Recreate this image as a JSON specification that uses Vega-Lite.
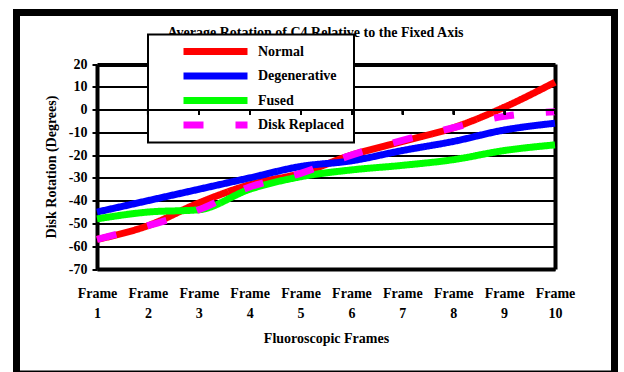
{
  "$schema": "https://vega.github.io/schema/vega-lite/v6.json",
  "width": 598,
  "height": 361.5,
  "autosize": {"type": "none"},
  "padding": {"left": 16.5, "top": 12.5, "right": 9.5, "bottom": -2},
  "background": "white",
  "config": {
    "view": {"stroke": "black", "strokeWidth": 7, "fill": "white"},
    "font": "Liberation Serif",
    "axis": {
      "labelFont": "Liberation Serif",
      "labelFontSize": 14,
      "labelFontWeight": "bold",
      "labelColor": "black",
      "titleFont": "Liberation Serif",
      "titleFontSize": 14,
      "titleFontWeight": "bold",
      "titleColor": "black"
    }
  },
  "title": {
    "text": "Average Rotation of C4 Relative to the Fixed Axis",
    "font": "Liberation Serif",
    "fontSize": 14,
    "fontWeight": "bold",
    "color": "black",
    "anchor": "middle",
    "frame": "group",
    "baseline": "alphabetic",
    "offset": -38,
    "zindex": 0
  },
  "data": {
    "values": [
      {"frame": "Frame 1", "series": "Normal", "rotation": -57},
      {"frame": "Frame 2", "series": "Normal", "rotation": -51},
      {"frame": "Frame 3", "series": "Normal", "rotation": -41},
      {"frame": "Frame 4", "series": "Normal", "rotation": -33},
      {"frame": "Frame 5", "series": "Normal", "rotation": -28},
      {"frame": "Frame 6", "series": "Normal", "rotation": -20},
      {"frame": "Frame 7", "series": "Normal", "rotation": -14},
      {"frame": "Frame 8", "series": "Normal", "rotation": -8},
      {"frame": "Frame 9", "series": "Normal", "rotation": 1},
      {"frame": "Frame 10", "series": "Normal", "rotation": 12},
      {"frame": "Frame 1", "series": "Degenerative", "rotation": -45},
      {"frame": "Frame 2", "series": "Degenerative", "rotation": -40},
      {"frame": "Frame 3", "series": "Degenerative", "rotation": -35},
      {"frame": "Frame 4", "series": "Degenerative", "rotation": -30},
      {"frame": "Frame 5", "series": "Degenerative", "rotation": -25},
      {"frame": "Frame 6", "series": "Degenerative", "rotation": -22.5},
      {"frame": "Frame 7", "series": "Degenerative", "rotation": -18},
      {"frame": "Frame 8", "series": "Degenerative", "rotation": -14},
      {"frame": "Frame 9", "series": "Degenerative", "rotation": -9},
      {"frame": "Frame 10", "series": "Degenerative", "rotation": -6},
      {"frame": "Frame 1", "series": "Fused", "rotation": -48},
      {"frame": "Frame 2", "series": "Fused", "rotation": -45},
      {"frame": "Frame 3", "series": "Fused", "rotation": -44},
      {"frame": "Frame 4", "series": "Fused", "rotation": -35},
      {"frame": "Frame 5", "series": "Fused", "rotation": -29.5},
      {"frame": "Frame 6", "series": "Fused", "rotation": -26.5},
      {"frame": "Frame 7", "series": "Fused", "rotation": -24.5},
      {"frame": "Frame 8", "series": "Fused", "rotation": -22},
      {"frame": "Frame 9", "series": "Fused", "rotation": -18},
      {"frame": "Frame 10", "series": "Fused", "rotation": -15.5},
      {"frame": "Frame 1", "series": "Disk Replaced", "rotation": -57},
      {"frame": "Frame 2", "series": "Disk Replaced", "rotation": -51},
      {"frame": "Frame 3", "series": "Disk Replaced", "rotation": -44},
      {"frame": "Frame 4", "series": "Disk Replaced", "rotation": -34},
      {"frame": "Frame 5", "series": "Disk Replaced", "rotation": -28},
      {"frame": "Frame 6", "series": "Disk Replaced", "rotation": -20},
      {"frame": "Frame 7", "series": "Disk Replaced", "rotation": -13.5},
      {"frame": "Frame 8", "series": "Disk Replaced", "rotation": -8},
      {"frame": "Frame 9", "series": "Disk Replaced", "rotation": -3},
      {"frame": "Frame 10", "series": "Disk Replaced", "rotation": -1}
    ]
  },
  "layer": [
    {
      "mark": {"type": "line", "strokeWidth": 7, "interpolate": "monotone", "strokeCap": "butt"},
      "encoding": {
        "x": {
          "field": "frame",
          "type": "ordinal",
          "scale": {
            "type": "point",
            "domain": ["Frame 1", "Frame 2", "Frame 3", "Frame 4", "Frame 5", "Frame 6", "Frame 7", "Frame 8", "Frame 9", "Frame 10"],
            "range": [80.5, 538.5],
            "padding": 0
          },
          "axis": {
            "orient": "bottom",
            "offset": -105,
            "title": "Fluoroscopic Frames",
            "titlePadding": 11,
            "labelExpr": "split(datum.label, ' ')",
            "labelAngle": 0,
            "labelPadding": 17,
            "labelLineHeight": 20,
            "labelBaseline": "top",
            "labelOverlap": false,
            "ticks": false,
            "tickSize": 0,
            "domain": true,
            "domainColor": "black",
            "domainWidth": 4,
            "grid": false
          }
        },
        "y": {
          "field": "rotation",
          "type": "quantitative",
          "scale": {"domain": [-70, 20], "range": [256.5, 51.5], "nice": false, "zero": false},
          "axis": {
            "orient": "left",
            "offset": -80.5,
            "values": [-70, -60, -50, -40, -30, -20, -10, 0, 10, 20],
            "labelExpr": "'' + datum.value",
            "title": "Disk Rotation (Degrees)",
            "titlePadding": 10,
            "labelPadding": 5,
            "ticks": true,
            "tickSize": 5,
            "tickWidth": 2,
            "tickColor": "black",
            "domain": true,
            "domainColor": "black",
            "domainWidth": 4,
            "grid": true,
            "gridColor": "black",
            "gridOpacity": 1,
            "gridWidth": {"condition": {"test": "datum.value === 20", "value": 4}, "value": 2}
          }
        },
        "color": {
          "field": "series",
          "type": "nominal",
          "scale": {
            "domain": ["Normal", "Degenerative", "Fused", "Disk Replaced"],
            "range": ["#ff0000", "#0000ff", "#00ff00", "#ff00ff"]
          },
          "legend": {
            "orient": "none",
            "legendX": 131.5,
            "legendY": 22,
            "title": null,
            "padding": 10,
            "fillColor": "white",
            "strokeColor": "black",
            "symbolType": "stroke",
            "symbolSize": 4096,
            "symbolStrokeWidth": 7,
            "symbolOffset": 22,
            "labelOffset": 7,
            "rowPadding": 10.5,
            "clipHeight": 14,
            "labelFont": "Liberation Serif",
            "labelFontSize": 14,
            "labelFontWeight": "bold",
            "labelColor": "black",
            "zindex": 1,
            "encode": {"legend": {"update": {"strokeWidth": {"value": 2}}}}
          }
        },
        "strokeDash": {
          "field": "series",
          "type": "nominal",
          "scale": {
            "domain": ["Normal", "Degenerative", "Fused", "Disk Replaced"],
            "range": [[1, 0], [1, 0], [1, 0], [20, 32]]
          }
        }
      }
    },
    {
      "transform": [{"filter": "datum.series === 'Normal'"}],
      "mark": {"type": "rule", "color": "black", "strokeWidth": 2},
      "encoding": {
        "x": {
          "field": "frame",
          "type": "ordinal",
          "axis": {
            "orient": "bottom",
            "offset": -264.44,
            "labels": false,
            "ticks": true,
            "tickSize": 5,
            "tickWidth": 2,
            "tickColor": "black",
            "domain": true,
            "domainColor": "black",
            "domainWidth": 2,
            "grid": false,
            "title": null,
            "zindex": 2
          }
        },
        "y": {
          "datum": 0,
          "type": "quantitative",
          "axis": {
            "orient": "right",
            "offset": -59.5,
            "labels": false,
            "ticks": false,
            "grid": false,
            "title": null,
            "domain": true,
            "domainColor": "black",
            "domainWidth": 4
          }
        },
        "y2": {"datum": -2.2}
      }
    }
  ],
  "resolve": {"axis": {"x": "independent", "y": "independent"}}
}
